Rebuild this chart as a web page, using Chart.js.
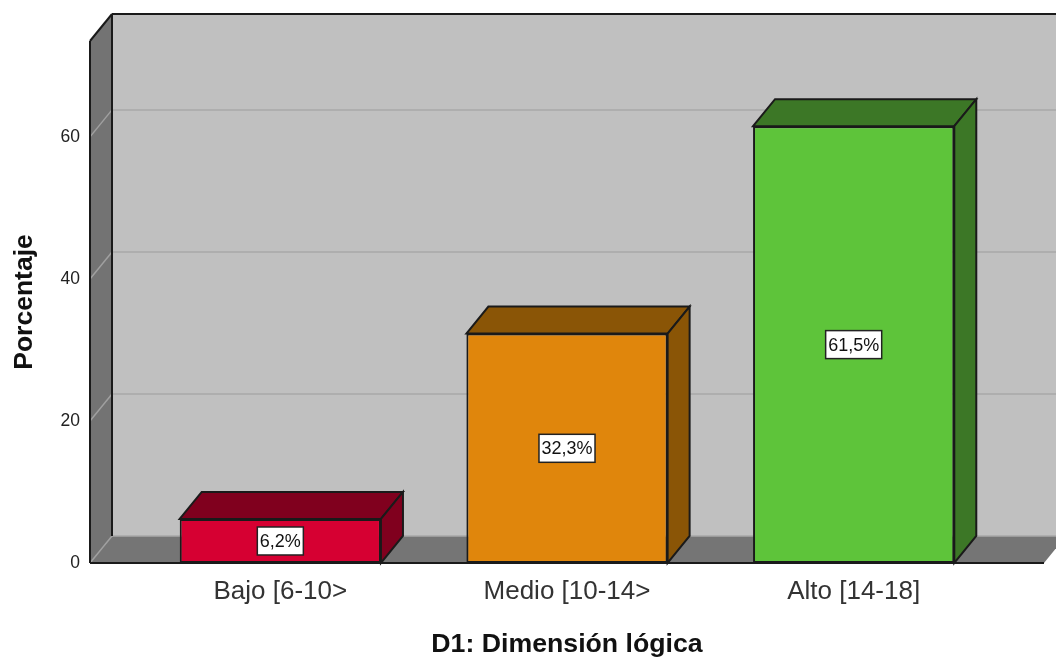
<!DOCTYPE html>
<html>
<head>
<meta charset="utf-8">
<style>
  html, body { margin: 0; padding: 0; background: #fff; overflow: hidden; }
  canvas { display: block; }
</style>
<script src="https://cdn.jsdelivr.net/npm/chart.js@4"></script>
</head>
<body>
<canvas id="chart" width="1056" height="658"></canvas>
<script>
// Values
const categories = ['Bajo [6-10>', 'Medio [10-14>', 'Alto [14-18]'];
const percentages = [6.2, 32.3, 61.5];
const percentLabels = ['6,2%', '32,3%', '61,5%'];
const yTicks = [0, 20, 40, 60];
const frontColors = ['#d60032', '#e0860c', '#5ec43a'];
const sideColors = ['#80001e', '#8a5506', '#3c7726'];

const depthX = 22;
const depthY = -27;
const wallOverhang = 47; // the floor runs past the outer categories

function polygon(ctx, points, fill, stroke, lineWidth) {
  ctx.beginPath();
  points.forEach((p, i) => i ? ctx.lineTo(p[0], p[1]) : ctx.moveTo(p[0], p[1]));
  ctx.closePath();
  if (fill) { ctx.fillStyle = fill; ctx.fill(); }
  if (stroke) { ctx.strokeStyle = stroke; ctx.lineWidth = lineWidth || 2; ctx.stroke(); }
}

function line(ctx, x1, y1, x2, y2, color, width) {
  ctx.beginPath();
  ctx.moveTo(x1, y1);
  ctx.lineTo(x2, y2);
  ctx.strokeStyle = color;
  ctx.lineWidth = width;
  ctx.stroke();
}

// Back wall, side wall and floor, placed from the scales
const box3d = {
  id: 'box3d',
  beforeDatasetsDraw(chart) {
    const { ctx, chartArea: a, scales: { y } } = chart;
    const left = a.left - wallOverhang;
    const right = a.right + wallOverhang;
    ctx.save();
    polygon(ctx, [[left + depthX, a.top + depthY], [right + depthX, a.top + depthY],
      [right + depthX, a.bottom + depthY], [left + depthX, a.bottom + depthY]], '#c0c0c0');
    polygon(ctx, [[left, a.top], [left + depthX, a.top + depthY],
      [left + depthX, a.bottom + depthY], [left, a.bottom]], '#737373');
    polygon(ctx, [[left, a.bottom], [left + depthX, a.bottom + depthY],
      [right + depthX, a.bottom + depthY], [right, a.bottom]], '#757575');
    yTicks.forEach(t => {
      const py = y.getPixelForValue(t);
      line(ctx, left, py, left + depthX, py + depthY, '#a0a0a0', 1.5);
      line(ctx, left + depthX, py + depthY, right + depthX, py + depthY, '#a8a8a8', 1.5);
    });
    line(ctx, left, a.top, left, a.bottom, '#1a1a1a', 2);
    line(ctx, left, a.top, left + depthX, a.top + depthY, '#1a1a1a', 2);
    line(ctx, left + depthX, a.top + depthY, left + depthX, a.bottom + depthY, '#1a1a1a', 2);
    line(ctx, left + depthX, a.top + depthY, right + depthX, a.top + depthY, '#1a1a1a', 2);
    line(ctx, left, a.bottom, right, a.bottom, '#1a1a1a', 2);

    // top and side face of every bar
    chart.getDatasetMeta(0).data.forEach((bar, i) => {
      const l = bar.x - bar.width / 2;
      const r = bar.x + bar.width / 2;
      polygon(ctx, [[l, bar.y], [l + depthX, bar.y + depthY], [r + depthX, bar.y + depthY], [r, bar.y]],
        sideColors[i], '#1a1a1a', 2);
      polygon(ctx, [[r, bar.y], [r + depthX, bar.y + depthY], [r + depthX, bar.base + depthY], [r, bar.base]],
        sideColors[i], '#1a1a1a', 2);
    });
    ctx.restore();
  },
  afterDatasetsDraw(chart) {
    const { ctx, scales: { y } } = chart;
    ctx.save();
    ctx.font = '18px "Liberation Sans"';
    ctx.textAlign = 'center';
    ctx.textBaseline = 'middle';
    chart.getDatasetMeta(0).data.forEach((bar, i) => {
      const py = y.getPixelForValue(percentages[i] / 2);
      const w = ctx.measureText(percentLabels[i]).width + 5;
      ctx.fillStyle = '#fff';
      ctx.fillRect(bar.x - w / 2, py - 14, w, 28);
      ctx.strokeStyle = '#222';
      ctx.lineWidth = 1.5;
      ctx.strokeRect(bar.x - w / 2, py - 14, w, 28);
      ctx.fillStyle = '#111';
      ctx.fillText(percentLabels[i], bar.x, py + 1);
    });
    ctx.restore();
  }
};

new Chart(document.getElementById('chart').getContext('2d'), {
  type: 'bar',
  data: {
    labels: categories,
    datasets: [{
      data: percentages,
      backgroundColor: frontColors,
      borderColor: '#1a1a1a',
      borderWidth: 2,
      borderSkipped: false,
      categoryPercentage: 1,
      barPercentage: 0.702
    }]
  },
  options: {
    responsive: false,
    animation: false,
    layout: { autoPadding: false, padding: { top: 41, right: 59 } },
    plugins: { legend: { display: false }, tooltip: { enabled: false } },
    scales: {
      x: {
        afterFit(scale) { scale.height = 95; },
        grid: { display: false, drawTicks: false },
        border: { display: false },
        ticks: { color: '#333', padding: 13, font: { family: 'Liberation Sans', size: 26 }, maxRotation: 0 },
        title: {
          display: true,
          text: 'D1: Dimensión lógica',
          color: '#111',
          font: { family: 'Liberation Sans', size: 26.7, weight: 'bold' },
          padding: { top: 12, bottom: -3 }
        }
      },
      y: {
        min: 0,
        max: 73.5,
        // the wide tick padding would otherwise also pad the top and bottom of the scale
        afterFit(scale) { scale.width = 137; scale.paddingTop = 0; scale.paddingBottom = 0; },
        afterBuildTicks(scale) { scale.ticks = yTicks.map(v => ({ value: v })); },
        grid: { display: false, drawTicks: false },
        border: { display: false },
        ticks: { color: '#222', padding: 57, includeBounds: false, font: { family: 'Liberation Sans', size: 17.5 } },
        title: {
          display: true,
          text: 'Porcentaje',
          color: '#111',
          font: { family: 'Liberation Sans', size: 26.5, weight: 'bold' },
          padding: { top: 9, bottom: 0 }
        }
      }
    }
  },
  plugins: [box3d]
});
</script>
</body>
</html>
